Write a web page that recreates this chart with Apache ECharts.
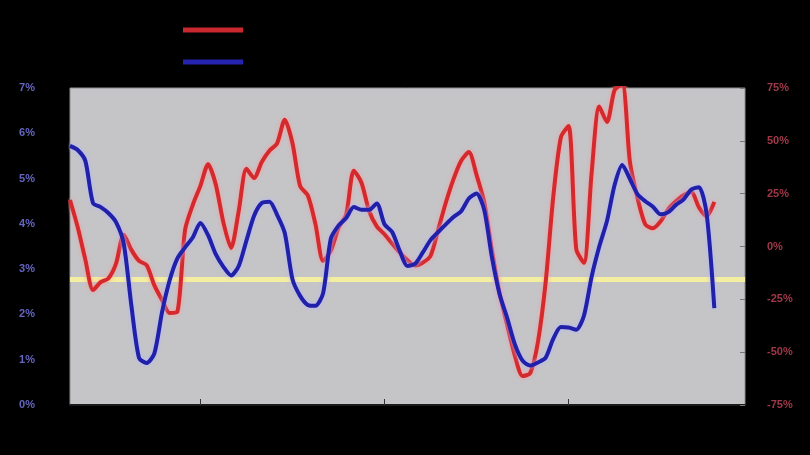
<!DOCTYPE html>
<html>
<head>
<meta charset="utf-8">
<script src="https://cdn.jsdelivr.net/npm/echarts@6/dist/echarts.min.js"></script>
<style>
  html, body { margin: 0; padding: 0; background: #000; }
  #chart { width: 810px; height: 455px; }
</style>
</head>
<body>
<div id="chart"></div>
<script>
// periods along the x axis (labels not shown in the picture)
const periods = Array.from({ length: 89 }, (_, i) => 'P' + (i + 1))

// left axis (blue series), percent
const leftTicks = [0, 1, 2, 3, 4, 5, 6, 7]
const blueValues = [
  5.72, 5.63, 5.39, 4.46, 4.37, 4.24, 4.04, 3.57, 2.20, 1.04,
  0.93, 1.14, 2.05, 2.76, 3.24, 3.48, 3.70, 4.02, 3.75, 3.33,
  3.05, 2.86, 3.07, 3.63, 4.18, 4.46, 4.49, 4.20, 3.80, 2.78,
  2.41, 2.21, 2.19, 2.47, 3.67, 3.96, 4.13, 4.37, 4.31, 4.31,
  4.45, 3.99, 3.82, 3.40, 3.07, 3.12, 3.37, 3.64, 3.82, 3.99,
  4.15, 4.28, 4.56, 4.67, 4.31, 3.27, 2.45, 1.92, 1.34, 0.98,
  0.87, 0.94, 1.04, 1.46, 1.72, 1.71, 1.66, 1.97, 2.83, 3.50,
  4.06, 4.86, 5.30, 4.99, 4.65, 4.50, 4.38, 4.21, 4.26, 4.42,
  4.54, 4.76, 4.81, 4.22, 2.14
]

// right axis (red series), percent
const rightTicks = [-75, -50, -25, 0, 25, 50, 75]
const redValues = [
  22.0, 9.2, -6.2, -20.6, -16.9, -15.1, -8.1, 5.6, -1.6, -6.8,
  -8.9, -18.4, -25.3, -31.5, -30.9, 7.8, 19.6, 28.7, 38.9, 29.4,
  11.3, -0.7, 16.9, 36.8, 32.4, 40.0, 45.3, 48.8, 60.0, 49.0,
  28.6, 24.2, 10.6, -6.8, -2.0, 8.8, 15.0, 35.9, 30.2, 16.8,
  9.5, 5.8, 1.4, -2.9, -6.5, -9.0, -7.6, -4.5, 7.9, 20.8,
  31.9, 40.6, 44.7, 33.9, 21.0, -1.6, -22.1, -37.1, -51.7, -61.3,
  -59.9, -45.3, -17.3, 23.4, 51.7, 57.0, -1.2, -7.7, 34.6, 66.2,
  58.9, 74.0, 77.0, 40.0, 22.8, 10.5, 8.6, 11.9, 17.7, 21.4,
  24.3, 25.8, 18.5, 14.3, 21.1
]

// horizontal reference level (left axis)
const refLevel = 2.78

const chart = echarts.init(document.getElementById('chart'))

chart.setOption({
  backgroundColor: '#000',
  animation: false,
  legend: {
    orient: 'vertical',
    left: 178,
    top: 19,
    itemWidth: 60,
    itemHeight: 5,
    itemGap: 20,
    icon: 'rect',
    textStyle: { color: '#000', fontSize: 12 },
    data: ['Return', 'Yield']
  },
  grid: {
    left: 70,
    right: 65,
    top: 88,
    bottom: 50,
    show: true,
    backgroundColor: '#c5c5c8',
    borderColor: '#8e8e92',
    borderWidth: 1
  },
  xAxis: {
    type: 'category',
    data: periods,
    boundaryGap: false,
    axisLine: { lineStyle: { color: '#1a1a1a', width: 2 } },
    axisTick: {
      inside: true,
      length: 6,
      interval: (i) => i >= 17 && (i - 17) % 24 === 0,
      lineStyle: { color: '#333' }
    },
    axisLabel: { show: false },
    splitLine: { show: false }
  },
  yAxis: [
    {
      type: 'value',
      min: leftTicks[0],
      max: leftTicks[leftTicks.length - 1],
      interval: 1,
      position: 'left',
      axisLine: { show: false },
      axisTick: { show: false },
      splitLine: { show: false },
      axisLabel: {
        color: '#6565c0',
        fontSize: 11,
        fontWeight: 'bold',
        margin: 35,
        formatter: '{value}%'
      }
    },
    {
      type: 'value',
      min: rightTicks[0],
      max: rightTicks[rightTicks.length - 1],
      interval: 25,
      position: 'right',
      axisLine: { show: false },
      axisTick: { show: true, inside: true, length: 5, lineStyle: { color: '#777' } },
      splitLine: { show: false },
      axisLabel: {
        color: '#a03848',
        fontSize: 11,
        fontWeight: 'bold',
        margin: 22,
        formatter: '{value}%'
      }
    }
  ],
  series: [
    {
      name: 'Return',
      type: 'line',
      yAxisIndex: 1,
      data: redValues,
      smooth: 0.25,
      symbol: 'none',
      z: 3,
      itemStyle: { color: '#c8282e' },
      lineStyle: {
        color: '#d42a2e',
        width: 4,
        shadowColor: 'rgba(255,150,150,0.9)',
        shadowBlur: 4
      }
    },
    {
      name: 'Yield',
      type: 'line',
      yAxisIndex: 0,
      data: blueValues,
      smooth: 0.25,
      symbol: 'none',
      z: 4,
      itemStyle: { color: '#2424b0' },
      lineStyle: {
        color: '#2020a8',
        width: 4,
        shadowColor: 'rgba(180,180,255,0.95)',
        shadowBlur: 4
      },
      markLine: {
        silent: true,
        symbol: 'none',
        label: { show: false },
        lineStyle: { color: '#f4eea0', width: 5, type: 'solid' },
        data: [{ yAxis: refLevel }],
        z: 2
      }
    }
  ]
})
</script>
</body>
</html>
